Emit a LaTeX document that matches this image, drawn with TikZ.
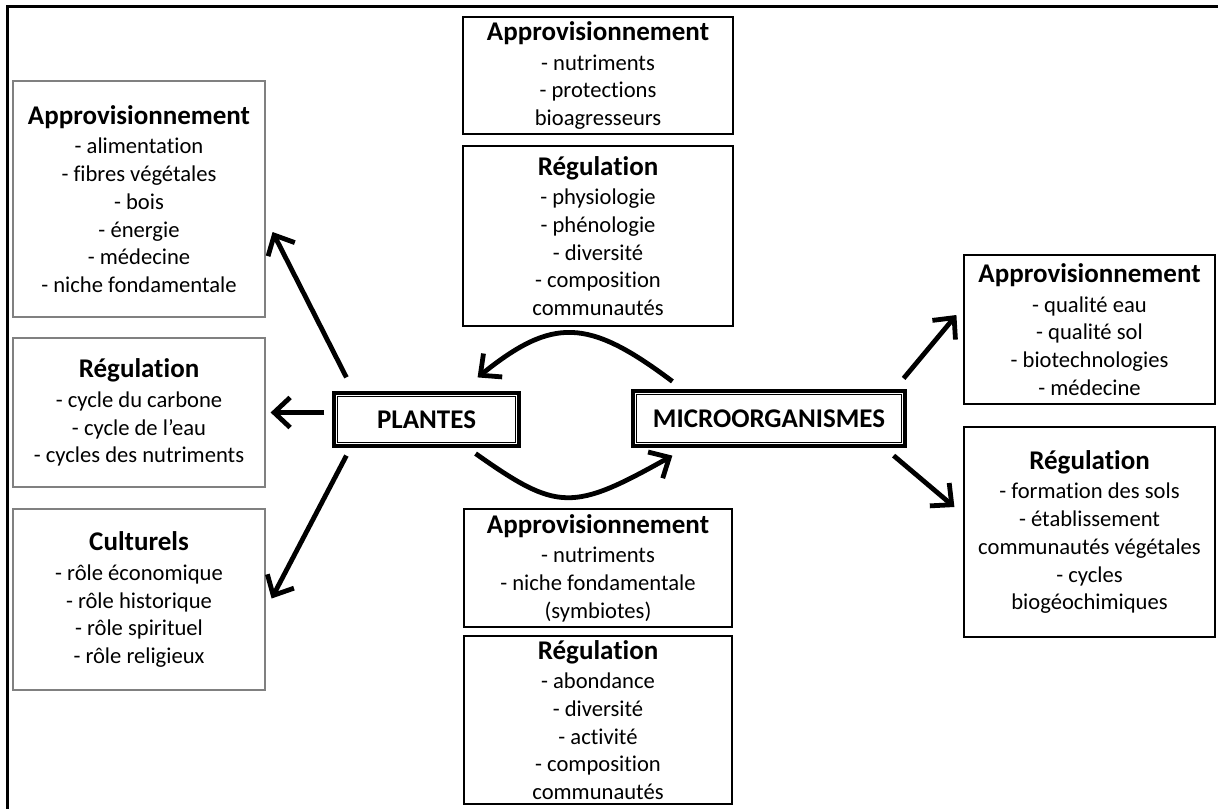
\documentclass[tikz,border=0pt]{standalone}
\usepackage{fontspec}
\setmainfont{Carlito}[Ligatures=NoCommon]
\usetikzlibrary{arrows.meta,calc}
\newcommand{\head}[1]{{\fontsize{13.5}{13.85}\selectfont\bfseries #1}\\[1pt]}

\begin{document}
\begin{tikzpicture}[x=0.5pt,y=-0.5pt]
        %
        % `service' is used for the lists of services, `leftservice' for the grey ones.
        % `organism' is used for the two main boxes (thick-thin frame).
        % `link' is used for all the arrows.
        \tikzstyle{service} = [draw,line width=0.6pt,align=center,inner sep=0pt,font=\fontsize{11.3}{13.85}\selectfont]
        \tikzstyle{leftservice} = [service,draw=black!50]
        \tikzstyle{organism} = [draw,line width=1.6pt,inner sep=0pt,font=\fontsize{13.5}{15}\selectfont\bfseries]
        \tikzstyle{innerframe} = [line width=0.5pt]
        \tikzstyle{link} = [line width=2.4pt,-{Straight Barb[length=8pt,width=15pt]}]
        %
        \clip (0,0) rectangle (1218,808);
        % Frame
        \draw[line width=1.5pt] (7.5,830) -- (7.5,6.5) -- (1240,6.5);
        %
        % Main boxes
        \node[organism,minimum width=92.5pt,minimum height=26.5pt] (pl) at (426.5,419.5) {PLANTES};
        \node[organism,minimum width=136pt,minimum height=27.5pt] (mi) at (769,418.5) {MICROORGANISMES};
        \draw[innerframe] ($(pl.north west)+(5,5)$) rectangle ($(pl.south east)+(-5,-5)$);
        \draw[innerframe] ($(mi.north west)+(5,5)$) rectangle ($(mi.south east)+(-5,-5)$);
        %
        % Column 1 (plants)
        \node[leftservice,minimum width=126pt,minimum height=118pt] (pa) at (139,199)
        	{\head{Approvisionnement}- alimentation\\- fibres végétales\\- bois\\- énergie\\- médecine\\- niche fondamentale};
        \node[leftservice,minimum width=126pt,minimum height=74.5pt] (pr) at (139,412.5)
        	{\head{Régulation}- cycle du carbone\\- cycle de l’eau\\- cycles des nutriments};
        \node[leftservice,minimum width=126pt,minimum height=90.5pt] (pc) at (139,599.5)
        	{\head{Culturels}- rôle économique\\- rôle historique\\- rôle spirituel\\- rôle religieux};
        %
        % Column 2 (between)
        \node[service,minimum width=135pt,minimum height=58.5pt] (ma) at (598,75.5)
        	{\head{Approvisionnement}- nutriments\\- protections\\bioagresseurs};
        \node[service,minimum width=135pt,minimum height=90pt] (mr) at (598,236)
        	{\head{Régulation}- physiologie\\- phénologie\\- diversité\\- composition\\communautés};
        \node[service,minimum width=134pt,minimum height=59pt] (sa) at (598,568)
        	{\head{Approvisionnement}- nutriments\\- niche fondamentale\\(symbiotes)};
        \node[service,minimum width=134pt,minimum height=84pt] (sr) at (598,720)
        	{\head{Régulation}- abondance\\- diversité\\- activité\\- composition\\communautés};
        %
        % Column 3 (microorganisms)
        \node[service,minimum width=125.5pt,minimum height=74.5pt] (ra) at (1089.5,329.5)
        	{\head{Approvisionnement}- qualité eau\\- qualité sol\\- biotechnologies\\- médecine};
        \node[service,minimum width=125.5pt,minimum height=105pt] (rr) at (1089.5,532)
        	{\head{Régulation}- formation des sols\\- établissement\\communautés végétales\\- cycles\\biogéochimiques};
        %
        % Arrows
        \draw[link] ($(pl.north west)+(14,-14)$) -- ($(pa.east)+(7,33)$);
        \draw[link] ($(pl.west)+(-8,-7)$) -- ($(pr.east)+(5,0)$);
        \draw[link] ($(pl.south west)+(14,8)$) -- ($(pc.east)+(6,-1)$);
        \draw[link] ($(mi.north west)+(41,-8)$) .. controls +(-85,-64) and +(75,-60) .. ($(pl.north east)+(-43,-14)$);
        \draw[link] ($(pl.south east)+(-45,6)$) .. controls +(82,58) and +(-100,56) .. ($(mi.south west)+(41,8)$);
        \draw[link] ($(mi.north east)+(-3,-11)$) -- ($(ra.west)+(-7,-14.5)$);
        \draw[link] ($(mi.south east)+(-13,8)$) -- ($(rr.west)+(-9,-25)$);
        %
\end{tikzpicture}
\end{document}
